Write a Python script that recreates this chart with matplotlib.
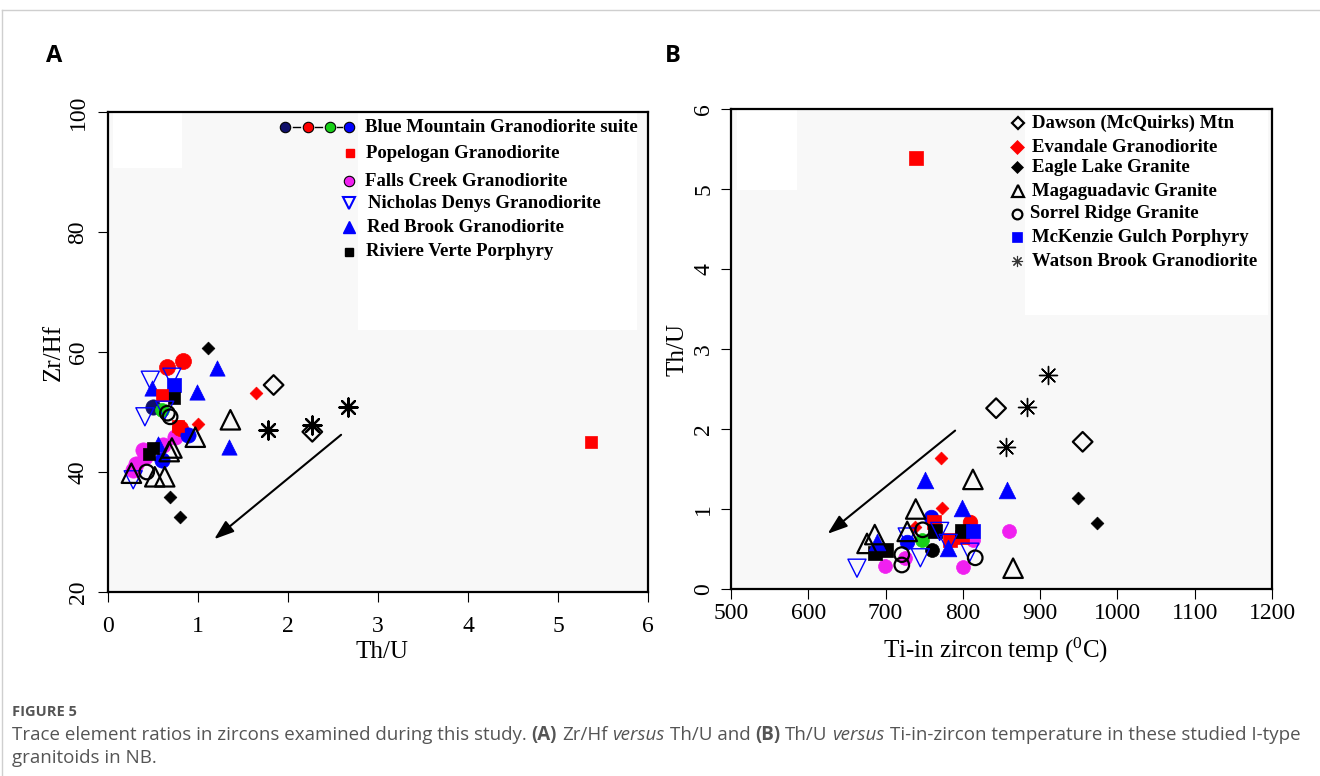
import matplotlib
matplotlib.use('Agg')
import matplotlib.pyplot as plt
from matplotlib.patches import Rectangle
from matplotlib.lines import Line2D
from matplotlib import font_manager

W, H, DPI = 1320, 776, 100

# ---------------- Panel A data: Th/U (x) vs Zr/Hf (y) ----------------
A_BM_NAVY_X = [0.50];              A_BM_NAVY_Y = [50.8]
A_BM_RED_X = [0.65, 0.83, 0.80];   A_BM_RED_Y = [57.5, 58.5, 47.3]
A_BM_GREEN_X = [0.60];             A_BM_GREEN_Y = [50.3]
A_BM_BLUE_X = [0.89, 0.60];        A_BM_BLUE_Y = [46.2, 42.0]
A_POP_X = [0.60, 0.78, 5.37];      A_POP_Y = [52.8, 47.6, 45.0]
A_FALLS_X = [0.74, 0.61, 0.39, 0.41, 0.28, 0.31]
A_FALLS_Y = [45.8, 44.5, 43.7, 42.5, 40.3, 41.3]
A_NICH_X = [0.47, 0.71, 0.41, 0.63, 0.28]
A_NICH_Y = [55.3, 55.8, 49.2, 50.3, 38.7]
A_REDB_X = [1.21, 0.49, 0.99, 1.34, 0.55]
A_REDB_Y = [57.3, 54.0, 53.3, 44.2, 44.6]
A_RIV_X = [0.73, 0.50, 0.45];      A_RIV_Y = [52.3, 44.0, 43.0]
A_MCK_X = [0.73];                  A_MCK_Y = [54.5]
A_DAW_X = [1.84, 2.27];            A_DAW_Y = [54.5, 46.7]
A_EVA_X = [1.64, 1.00];            A_EVA_Y = [53.2, 48.0]
A_EAG_X = [1.11, 0.69, 0.80];      A_EAG_Y = [60.7, 35.8, 32.5]
A_MAG_X = [1.36, 0.97, 0.71, 0.26, 0.52, 0.63, 0.68]
A_MAG_Y = [48.7, 45.8, 44.0, 39.8, 39.2, 39.2, 43.4]
A_SOR_X = [0.69, 0.43, 0.66];      A_SOR_Y = [49.2, 40.0, 49.8]
A_WAT_X = [1.78, 2.27, 2.67];      A_WAT_Y = [47.0, 47.8, 50.8]
A_ARROW_FROM = (2.59, 46.2);       A_ARROW_TO = (1.18, 28.8)

# ---------------- Panel B data: Ti-in-zircon temp (x) vs Th/U (y) ----------------
B_DAW_X = [843, 955];              B_DAW_Y = [2.26, 1.84]
B_WAT_X = [883, 856, 910];         B_WAT_Y = [2.28, 1.78, 2.68]
B_POP_X = [739, 763, 783, 799];    B_POP_Y = [5.39, 0.84, 0.61, 0.65]
B_EVA_X = [772, 773, 738];         B_EVA_Y = [1.64, 1.01, 0.78]
B_REDB_X = [751, 857, 799, 781, 689]
B_REDB_Y = [1.36, 1.24, 1.01, 0.51, 0.59]
B_MAG_X = [813, 739, 686, 676, 865, 728]
B_MAG_Y = [1.37, 1.00, 0.68, 0.57, 0.26, 0.72]
B_EAG_X = [949, 973];              B_EAG_Y = [1.14, 0.83]
B_BM_BLUE_X = [759, 728];          B_BM_BLUE_Y = [0.90, 0.59]
B_BM_RED_X = [809];                B_BM_RED_Y = [0.84]
B_BM_GREEN_X = [747];              B_BM_GREEN_Y = [0.61]
B_BM_NAVY_X = [760];               B_BM_NAVY_Y = [0.49]
B_RIV_X = [764, 799, 686, 701];    B_RIV_Y = [0.72, 0.72, 0.45, 0.49]
B_MCK_X = [813];                   B_MCK_Y = [0.72]
B_FALLS_X = [860, 813, 725, 699, 800]
B_FALLS_Y = [0.73, 0.61, 0.39, 0.29, 0.27]
B_NICH_X = [728, 770, 781, 809, 663, 745]
B_NICH_Y = [0.65, 0.72, 0.57, 0.46, 0.26, 0.39]
B_SOR_X = [721, 721, 816, 748];    B_SOR_Y = [0.43, 0.30, 0.39, 0.74]
B_ARROW_FROM = (790, 1.98);        B_ARROW_TO = (625, 0.69)

A_XTICKS = [0, 1, 2, 3, 4, 5, 6]
A_YTICKS = [20, 40, 60, 80, 100]
B_XTICKS = [500, 600, 700, 800, 900, 1000, 1100, 1200]
B_YTICKS = [0, 1, 2, 3, 4, 5, 6]

LEGEND_A = ['Blue Mountain Granodiorite suite', 'Popelogan Granodiorite',
            'Falls Creek Granodiorite', 'Nicholas Denys Granodiorite',
            'Red Brook Granodiorite', 'Riviere Verte Porphyry']
LEGEND_B = ['Dawson (McQuirks) Mtn', 'Evandale Granodiorite', 'Eagle Lake Granite',
            'Magaguadavic Granite', 'Sorrel Ridge Granite', 'McKenzie Gulch Porphyry',
            'Watson Brook Granodiorite']

RED, BLUE, MAG, GREEN, NAVY = '#ff0000', '#0000ff', '#f020f0', '#18d018', '#10106a'
AST = (8, 2, 0)

plt.rcParams['font.family'] = ['Liberation Serif', 'DejaVu Serif']
plt.rcParams['mathtext.fontset'] = 'stix'

fig = plt.figure(figsize=(W / DPI, H / DPI), dpi=DPI)
fig.patch.set_facecolor('white')


def ax_at(l, t, r, b):
    return fig.add_axes([l / W, 1 - b / H, (r - l) / W, (b - t) / H])


def fx(px):
    return px / W


def fy(py):
    return 1 - py / H


axA = ax_at(108, 112, 648, 592)
axB = ax_at(731, 109, 1272, 589)

for ax in (axA, axB):
    ax.set_facecolor('#f8f8f8')
    for sp in ax.spines.values():
        sp.set_linewidth(1.6)
        sp.set_color('black')
    ax.tick_params(direction='out', length=7, width=0.8, labelsize=17, colors='black')

# white rectangles inside plot areas (as in the scanned figure)
for ax, (l, t, r, b) in ((axA, (113, 113, 182, 168)), (axA, (358, 113, 637, 330)),
                         (axB, (737, 110, 797, 190)), (axB, (1025, 110, 1268, 315))):
    ax.add_patch(Rectangle((fx(l), fy(b)), (r - l) / W, (b - t) / H,
                           transform=fig.transFigure, facecolor='white',
                           edgecolor='none', zorder=0.5))


def sc(ax, x, y, marker, size, face, edge, lw=1.0, z=3):
    ax.scatter(x, y, s=size ** 2, marker=marker, facecolors=face, edgecolors=edge,
               linewidths=lw, zorder=z, clip_on=False)


ARROW = dict(arrowstyle='-|>,head_length=0.8,head_width=0.28', lw=1.5,
             color='black', shrinkA=0, shrinkB=0, mutation_scale=15)

# ---- Panel A scatter ----
sc(axA, A_FALLS_X, A_FALLS_Y, 'o', 11, MAG, MAG, 0.5)
sc(axA, A_BM_RED_X, A_BM_RED_Y, 'o', 11.5, RED, RED, 0.5)
sc(axA, A_BM_BLUE_X, A_BM_BLUE_Y, 'o', 11, BLUE, BLUE, 0.5)
sc(axA, A_BM_NAVY_X, A_BM_NAVY_Y, 'o', 11, NAVY, NAVY, 0.5)
sc(axA, A_BM_GREEN_X, A_BM_GREEN_Y, 'o', 10, GREEN, GREEN, 0.5)
sc(axA, A_REDB_X, A_REDB_Y, '^', 11, BLUE, BLUE, 0.5)
sc(axA, A_MCK_X, A_MCK_Y, 's', 10, BLUE, BLUE, 0.5)
sc(axA, A_RIV_X, A_RIV_Y, 's', 9, 'black', 'black', 0.5)
sc(axA, A_POP_X, A_POP_Y, 's', 8, RED, RED, 0.5)
sc(axA, A_EVA_X, A_EVA_Y, 'D', 6.5, RED, RED, 0.5)
sc(axA, A_EAG_X, A_EAG_Y, 'D', 6.5, 'black', 'black', 0.5)
sc(axA, A_NICH_X, A_NICH_Y, 'v', 13, 'none', BLUE, 1.0)
sc(axA, A_MAG_X, A_MAG_Y, '^', 14, 'none', 'black', 1.6)
sc(axA, A_SOR_X, A_SOR_Y, 'o', 10.5, 'none', 'black', 1.6)
sc(axA, A_DAW_X, A_DAW_Y, 'D', 10, 'none', 'black', 1.6)
sc(axA, A_WAT_X, A_WAT_Y, AST, 13, 'black', 'black', 1.6)

axA.annotate('', xy=A_ARROW_TO, xytext=A_ARROW_FROM, arrowprops=ARROW)

axA.set_xlim(0, 6)
axA.set_ylim(20, 100)
axA.set_xticks(A_XTICKS)
axA.set_yticks(A_YTICKS)
axA.tick_params(axis='x', pad=10)
axA.tick_params(axis='y', pad=7)
for lab in axA.get_yticklabels():
    lab.set_rotation(90)
    lab.set_va('center')
axA.set_xlabel('Th/U', fontsize=18, va='center', ha='center')
axA.xaxis.set_label_coords((382 - 108) / 540, -(652 - 592) / 480)
axA.set_ylabel('Zr/Hf', fontsize=18, va='center', ha='center')
axA.yaxis.set_label_coords((54 - 108) / 540, (592 - 352) / 480)

# ---- Panel B scatter ----
sc(axB, B_FALLS_X, B_FALLS_Y, 'o', 10, MAG, MAG, 0.5)
sc(axB, B_BM_RED_X, B_BM_RED_Y, 'o', 10.5, RED, RED, 0.5)
sc(axB, B_BM_BLUE_X, B_BM_BLUE_Y, 'o', 10.5, BLUE, BLUE, 0.5)
sc(axB, B_BM_NAVY_X, B_BM_NAVY_Y, 'o', 10, 'black', 'black', 0.5)
sc(axB, B_BM_GREEN_X, B_BM_GREEN_Y, 'o', 10, GREEN, GREEN, 0.5)
sc(axB, B_POP_X, B_POP_Y, 's', 10, RED, RED, 0.5)
sc(axB, B_RIV_X, B_RIV_Y, 's', 10, 'black', 'black', 0.5)
sc(axB, B_MCK_X, B_MCK_Y, 's', 10, BLUE, BLUE, 0.5)
sc(axB, B_REDB_X, B_REDB_Y, '^', 12, BLUE, BLUE, 0.5)
sc(axB, B_EVA_X, B_EVA_Y, 'D', 6.5, RED, RED, 0.5)
sc(axB, B_EAG_X, B_EAG_Y, 'D', 6.5, 'black', 'black', 0.5)
sc(axB, B_NICH_X, B_NICH_Y, 'v', 13, 'none', BLUE, 1.0)
sc(axB, B_MAG_X, B_MAG_Y, '^', 14, 'none', 'black', 1.6)
sc(axB, B_SOR_X, B_SOR_Y, 'o', 10.5, 'none', 'black', 1.6)
sc(axB, B_DAW_X, B_DAW_Y, 'D', 10, 'none', 'black', 1.6)
sc(axB, B_WAT_X, B_WAT_Y, AST, 13, 'black', 'black', 1.0)

axB.annotate('', xy=B_ARROW_TO, xytext=B_ARROW_FROM, arrowprops=ARROW)

axB.set_xlim(500, 1200)
axB.set_ylim(0, 6)
axB.set_xticks(B_XTICKS)
axB.set_yticks(B_YTICKS)
axB.tick_params(axis='x', pad=3)
axB.tick_params(axis='y', pad=5)
for lab in axB.get_yticklabels():
    lab.set_rotation(90)
    lab.set_va('center')
axB.set_xlabel(r'Ti-in zircon temp ($\mathregular{^0}$C)', fontsize=18, va='center', ha='center')
axB.xaxis.set_label_coords((995 - 731) / 541, -(650 - 589) / 480)
axB.set_ylabel('Th/U', fontsize=18, va='center', ha='center')
axB.yaxis.set_label_coords((678 - 731) / 541, (589 - 350) / 480)

# ---- Legend A (drawn by hand, pixel layout of the original) ----
LFS = 13.5
legA_rows_y = [127, 153, 181, 203, 227, 252]
legA_text_x = [365, 366, 365, 368, 367, 366]
for s, xx, yy in zip(LEGEND_A, legA_text_x, legA_rows_y):
    fig.text(fx(xx), fy(yy), s, fontsize=LFS, fontweight='bold', ha='left', va='center')
for cx, col in zip([285, 308, 330, 349], [NAVY, RED, GREEN, BLUE]):
    fig.add_artist(Line2D([fx(cx)], [fy(127)], marker='o', ms=7.5, mfc=col, mec='black',
                          mew=0.8, ls='none'))
for x0, x1 in ((293, 300), (315, 322), (337, 342)):
    fig.add_artist(Line2D([fx(x0), fx(x1)], [fy(127), fy(127)], color='black', lw=1.0))
fig.add_artist(Line2D([fx(350)], [fy(153)], marker='s', ms=6, mfc=RED, mec=RED, ls='none'))
fig.add_artist(Line2D([fx(349)], [fy(181)], marker='o', ms=7.5, mfc=MAG, mec='black', mew=0.8, ls='none'))
fig.add_artist(Line2D([fx(349)], [fy(203)], marker='v', ms=9, mfc='none', mec=BLUE, mew=1.5, ls='none'))
fig.add_artist(Line2D([fx(349)], [fy(227)], marker='^', ms=8, mfc=BLUE, mec=BLUE, ls='none'))
fig.add_artist(Line2D([fx(349)], [fy(252)], marker='s', ms=6, mfc='black', mec='black', ls='none'))

# ---- Legend B ----
legB_rows_y = [123, 147, 167, 191, 214, 237, 261]
legB_text_x = [1032, 1032, 1032, 1032, 1030, 1032, 1032]
for s, xx, yy in zip(LEGEND_B, legB_text_x, legB_rows_y):
    fig.text(fx(xx), fy(yy), s, fontsize=LFS, fontweight='bold', ha='left', va='center')
legB_markers = [('D', 6.5, 'none', 'black', 1.6), ('D', 7.5, RED, RED, 0.5),
                ('D', 6.5, 'black', 'black', 0.5), ('^', 9, 'none', 'black', 1.6),
                ('o', 7, 'none', 'black', 1.6), ('s', 6.5, BLUE, BLUE, 0.5),
                (AST, 8, 'black', '#333333', 0.8)]
for (m, ms, fc, ec, mw), yy, xx in zip(legB_markers, legB_rows_y,
                                        [1018, 1017, 1017, 1018, 1017, 1017, 1017]):
    fig.add_artist(Line2D([fx(xx)], [fy(yy)], marker=m, ms=ms, mfc=fc, mec=ec, mew=mw, ls='none'))

# ---- panel letters ----
fig.text(fx(54), fy(56), 'A', fontsize=17, fontweight='bold', family=['Open Sans', 'DejaVu Sans'],
         ha='center', va='center')
fig.text(fx(673), fy(56), 'B', fontsize=17, fontweight='bold', family=['Open Sans', 'DejaVu Sans'],
         ha='center', va='center')

# ---- frame lines of the figure page ----
fig.add_artist(Line2D([fx(2), fx(2)], [fy(10), fy(776)], color='#cfcfcf', lw=1.0))
fig.add_artist(Line2D([fx(2), fx(1320)], [fy(10), fy(10)], color='#cfcfcf', lw=1.0))

# ---- caption ----
_avail = {f.name for f in font_manager.fontManager.ttflist}
CAP_FAMILY = (['Liberation Sans Narrow'] if 'Liberation Sans Narrow' in _avail else []) + \
    ['Open Sans', 'DejaVu Sans']
CAP_COLOR = '#555555'
fig.text(fx(12), fy(716), 'FIGURE 5', fontsize=10.5, color=CAP_COLOR, family=CAP_FAMILY,
         fontweight='bold', ha='left', va='baseline')

cap_line1 = [('Trace element ratios in zircons examined during this study. ', 'normal', 'normal'),
             ('(A)', 'bold', 'normal'), (' Zr/Hf ', 'normal', 'normal'),
             ('versus', 'normal', 'italic'), (' Th/U and ', 'normal', 'normal'),
             ('(B)', 'bold', 'normal'), (' Th/U ', 'normal', 'normal'),
             ('versus', 'normal', 'italic'),
             (' Ti-in-zircon temperature in these studied I-type', 'normal', 'normal')]
cap_line2 = [('granitoids in NB.', 'normal', 'normal')]

renderer = fig.canvas.get_renderer()


def measure(s, size, weight, style):
    t = fig.text(0, 0, s, fontsize=size, fontweight=weight, fontstyle=style, family=CAP_FAMILY)
    w = t.get_window_extent(renderer=renderer).width
    t.remove()
    return w


def run_width(s, size, weight, style):
    core = s.strip(' ')
    nlead = len(s) - len(s.lstrip(' '))
    ntrail = len(s) - len(s.rstrip(' '))
    sp = measure('a a', size, 'normal', 'normal') - measure('aa', size, 'normal', 'normal')
    return (measure(core, size, weight, style) if core else 0), nlead * sp, ntrail * sp


def draw_runs(x0, y, runs, size):
    x = x0
    for s, wgt, sty in runs:
        wcore, lead, trail = run_width(s, size, wgt, sty)
        x += lead
        fig.text(fx(x), fy(y), s.strip(' '), fontsize=size, fontweight=wgt, fontstyle=sty,
                 family=CAP_FAMILY, color=CAP_COLOR, ha='left', va='baseline')
        x += wcore + trail
    return x


def total_width(runs, size):
    tot = 0
    for s, wgt, sty in runs:
        a, b, c = run_width(s, size, wgt, sty)
        tot += a + b + c
    return tot


base = 12.0
wt = total_width(cap_line1, base)
cap_size = min(base * (1296 / wt), 13.5)
draw_runs(12, 740, cap_line1, cap_size)
draw_runs(12, 763, cap_line2, cap_size)

fig.savefig('out.png', dpi=DPI, facecolor='white')
